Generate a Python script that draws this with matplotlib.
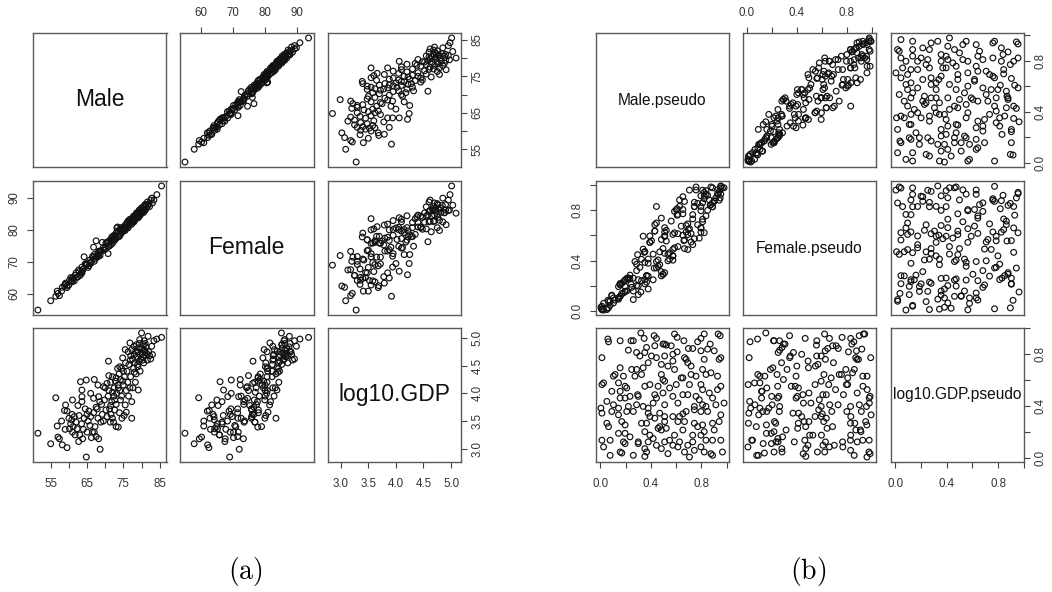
import numpy as np
import matplotlib
matplotlib.use("Agg")
import matplotlib.pyplot as plt

plt.rcParams['font.family'] = ['Liberation Sans', 'DejaVu Sans']
plt.rcParams['mathtext.fontset'] = 'cm'

# ---------------- (a) raw data ----------------
male = [51.5, 55.0, 56.8, 56.4, 57.0, 57.4, 58.2, 59.5, 59.1, 59.5,
        58.8, 60.0, 60.5, 60.8, 61.2, 61.5, 60.2, 61.0, 62.0, 62.3,
        61.7, 60.9, 62.7, 63.8, 64.8, 63.2, 64.8, 63.6, 63.6, 63.6,
        62.8, 63.5, 64.2, 64.0, 65.0, 65.3, 65.8, 66.0, 66.5, 65.5,
        66.8, 67.2, 67.5, 66.2, 68.0, 68.6, 68.2, 67.5, 66.8, 68.2,
        68.5, 67.8, 69.2, 69.0, 68.8, 67.0, 70.9, 70.0, 70.5, 71.0,
        71.5, 70.8, 71.8, 71.2, 71.6, 72.0, 71.4, 72.3, 73.0, 73.6,
        72.6, 73.0, 72.0, 72.5, 72.8, 73.2, 73.5, 73.8, 74.0, 74.2,
        74.5, 74.8, 74.5, 75.0, 75.3, 75.5, 75.5, 75.8, 76.0, 76.2,
        76.5, 76.8, 76.8, 77.0, 77.3, 77.3, 77.3, 77.5, 77.8, 78.0,
        78.2, 78.5, 78.6, 78.8, 79.0, 79.1, 79.1, 79.3, 79.5, 79.6,
        79.8, 80.0, 80.0, 80.2, 80.4, 80.5, 80.6, 80.8, 80.9, 81.0,
        81.2, 81.4, 81.6, 81.8, 82.0, 82.2, 82.5, 83.4, 85.5, 79.0,
        78.3, 77.6, 76.4, 75.2, 74.6, 73.9, 74.2, 73.4, 72.4, 71.0,
        69.5, 69.8, 70.2, 75.8, 76.9, 77.9, 78.9, 80.3, 81.0, 79.6,
        78.0, 75.6, 74.0, 73.0, 72.0, 71.5, 70.5, 69.5, 64.5, 62.5,
        61.0, 66.0, 67.0, 68.0, 65.0, 63.0, 59.0, 58.0, 82.8, 83.0,
        84.2, 80.7, 79.4, 78.4, 77.0, 76.3, 75.0, 74.8, 73.6, 72.6]

female = [54.9, 57.8, 60.8, 59.2, 60.1, 59.4, 62.0, 62.4, 63.3, 61.9,
          62.5, 62.7, 65.0, 64.1, 64.8, 64.0, 64.2, 64.1, 66.5, 65.1,
          65.7, 63.7, 67.4, 67.5, 68.9, 65.9, 69.4, 67.0, 68.3, 66.5,
          66.9, 66.6, 71.5, 67.7, 69.1, 68.2, 70.5, 69.7, 71.6, 68.7,
          71.4, 70.8, 76.5, 70.1, 72.5, 71.9, 73.2, 71.4, 74.5, 71.7,
          73.3, 71.4, 76.0, 73.3, 73.4, 70.1, 76.2, 74.2, 76.1, 74.8,
          76.7, 72.5, 77.6, 75.7, 76.5, 75.7, 76.8, 76.8, 78.9, 77.7,
          77.9, 77.3, 77.8, 77.2, 77.8, 80.5, 79.1, 78.5, 80.0, 78.4,
          80.0, 79.3, 80.6, 80.0, 80.6, 79.7, 81.4, 80.7, 82.2, 80.6,
          82.3, 81.5, 83.2, 82.2, 82.9, 81.7, 83.4, 82.6, 84.2, 82.7,
          84.2, 83.4, 85.2, 84.3, 84.8, 83.7, 85.4, 84.6, 86.1, 84.5,
          86.0, 85.1, 86.8, 85.8, 86.4, 85.3, 87.1, 86.3, 87.7, 86.0,
          87.5, 86.7, 88.6, 87.6, 88.1, 87.2, 89.2, 89.2, 93.6, 83.8,
          84.3, 82.4, 82.8, 80.2, 79.9, 77.9, 79.9, 80.8, 78.2, 74.8,
          74.4, 73.7, 75.8, 80.9, 82.4, 82.4, 85.2, 85.7, 87.8, 84.5,
          84.0, 80.2, 80.1, 77.8, 76.9, 75.2, 75.8, 73.6, 69.3, 65.3,
          64.9, 69.4, 72.2, 72.2, 69.1, 65.7, 62.9, 60.8, 89.8, 88.3,
          90.9, 85.9, 86.1, 83.8, 82.5, 80.6, 80.8, 79.6, 79.5, 76.6]

log10_gdp = [3.28, 3.09, 3.41, 3.92, 3.21, 3.18, 3.07, 3.02, 3.79, 3.68,
             3.69, 3.55, 3.45, 3.52, 3.40, 3.58, 3.36, 3.30, 3.48, 3.36,
             3.25, 3.62, 3.13, 3.18, 2.85, 4.21, 4.24, 4.06, 3.94, 3.85,
             3.60, 3.45, 3.55, 3.35, 3.62, 3.50, 3.42, 3.58, 3.30, 3.68,
             3.65, 3.40, 3.75, 3.20, 3.55, 2.99, 3.18, 3.22, 3.91, 3.94,
             3.85, 3.72, 3.62, 3.80, 3.48, 3.30, 4.58, 4.10, 4.18, 4.05,
             4.20, 3.95, 3.85, 3.72, 3.62, 3.55, 3.48, 3.48, 3.40, 3.39,
             3.70, 3.80, 4.30, 4.10, 4.22, 4.00, 4.15, 4.35, 4.05, 4.25,
             3.95, 4.64, 4.45, 4.15, 4.30, 4.79, 3.79, 4.05, 4.40, 4.20,
             4.52, 4.91, 4.10, 4.30, 4.79, 3.85, 3.55, 4.62, 4.45, 4.70,
             4.55, 4.35, 4.88, 4.65, 4.75, 4.06, 4.82, 4.58, 4.97, 4.70,
             4.62, 5.09, 4.80, 4.72, 4.66, 4.88, 4.55, 4.78, 4.76, 4.68,
             4.84, 4.72, 4.60, 5.03, 4.75, 4.68, 4.62, 4.95, 5.01, 4.48,
             4.20, 4.10, 3.95, 3.60, 3.55, 3.65, 3.88, 4.45, 3.95, 4.32,
             4.12, 3.88, 3.70, 3.66, 4.60, 4.85, 4.52, 4.60, 4.90, 4.40,
             4.38, 4.55, 4.48, 4.28, 4.02, 3.78, 3.58, 3.50, 3.72, 3.78,
             3.88, 4.00, 4.25, 4.15, 3.30, 3.25, 3.35, 3.50, 4.85, 4.70,
             4.98, 4.95, 4.90, 4.76, 4.68, 4.75, 4.40, 4.22, 4.10, 3.88]

# ---------------- (b) pseudo observations ----------------
male_pseudo = [
    0.060, 0.065, 0.157, 0.243, 0.261, 0.321, 0.347, 0.426, 0.444, 0.509,
    0.587, 0.608, 0.661, 0.770, 0.796, 0.822, 0.869, 0.932, 0.948, 0.222,
    0.366, 0.431, 0.496, 0.522, 0.561, 0.352, 0.287, 0.013, 0.608, 0.697,
    0.731, 0.796, 0.849, 0.901, 0.953, 0.940,
    0.313, 0.405, 0.444, 0.509, 0.574, 0.666, 0.679, 0.692, 0.718, 0.822,
    0.574, 0.157, 0.248, 0.287, 0.339, 0.379, 0.483, 0.535, 0.587,
    0.117, 0.104, 0.183, 0.274, 0.326, 0.483, 0.496, 0.640, 0.653, 0.718,
    0.809, 0.836, 0.757, 0.875, 0.927,
    0.013, 0.026, 0.144, 0.196, 0.209, 0.352, 0.392, 0.457, 0.509, 0.548,
    0.601, 0.705, 0.796, 0.809, 0.927, 0.953, 0.091, 0.157, 0.235, 0.295, 0.300,
    0.196, 0.157, 0.431, 0.444, 0.496, 0.574, 0.653, 0.692, 0.757, 0.783,
    0.862, 0.888, 0.052, 0.005, 0.104, 0.144, 0.222, 0.287, 0.339, 0.379,
    0.418, 0.509, 0.614, 0.744, 0.809, 0.836, 0.914, 0.979,
    0.013, 0.091, 0.144, 0.209, 0.261, 0.379, 0.392, 0.470, 0.509, 0.574,
    0.627, 0.653, 0.679, 0.744, 0.796, 0.849, 0.953, 0.052, 0.065, 0.170,
    0.196, 0.326, 0.366, 0.431, 0.509, 0.614, 0.666, 0.744, 0.770, 0.809,
    0.888, 0.940,
    0.144, 0.196, 0.235, 0.352, 0.392, 0.457, 0.470, 0.483, 0.522, 0.587,
    0.653, 0.731, 0.796, 0.822, 0.901, 0.013, 0.078, 0.183, 0.300, 0.379,
    0.418, 0.509, 0.548, 0.627, 0.692, 0.731, 0.836, 0.888, 0.953,
    0.026, 0.157, 0.170, 0.196, 0.300, 0.352, 0.366, 0.444, 0.483, 0.574,
    0.614, 0.666, 0.744, 0.796, 0.875, 0.888, 0.078, 0.261, 0.352, 0.535,
    0.705, 0.822, 0.966]

female_pseudo = [
    0.085, 0.025, 0.217, 0.213, 0.261, 0.151, 0.466, 0.341, 0.830, 0.305,
    0.621, 0.761, 0.559, 0.855, 0.660, 0.942, 0.839, 0.932, 0.898, 0.262,
    0.281, 0.686, 0.292, 0.556, 0.714, 0.250, 0.372, 0.018, 0.812, 0.646,
    0.731, 0.626, 0.919, 0.876, 0.990, 0.880,
    0.347, 0.558, 0.342, 0.594, 0.438, 0.870, 0.628, 0.692, 0.548, 0.892,
    0.489, 0.207, 0.188, 0.321, 0.492, 0.277, 0.568, 0.399, 0.791,
    0.087, 0.104, 0.143, 0.393, 0.241, 0.738, 0.292, 0.674, 0.806, 0.616,
    0.859, 0.756, 0.961, 0.845, 0.927,
    0.010, 0.061, 0.104, 0.246, 0.159, 0.386, 0.545, 0.355, 0.594, 0.412,
    0.805, 0.654, 0.796, 0.709, 0.962, 0.928, 0.121, 0.117, 0.255, 0.448, 0.198,
    0.246, 0.117, 0.635, 0.393, 0.496, 0.404, 0.772, 0.607, 0.985, 0.579,
    0.882, 0.978, 0.022, 0.030, 0.064, 0.104, 0.262, 0.202, 0.594, 0.175,
    0.452, 0.662, 0.512, 0.829, 0.729, 0.956, 0.899, 0.979,
    0.015, 0.126, 0.094, 0.259, 0.159, 0.413, 0.545, 0.368, 0.594, 0.438,
    0.831, 0.602, 0.679, 0.574, 0.915, 0.799, 0.993, 0.012, 0.075, 0.220,
    0.156, 0.411, 0.230, 0.635, 0.458, 0.614, 0.496, 0.863, 0.685, 0.959,
    0.828, 0.950,
    0.194, 0.156, 0.285, 0.216, 0.596, 0.406, 0.470, 0.313, 0.641, 0.502,
    0.908, 0.527, 0.830, 0.912, 0.871, 0.038, 0.045, 0.233, 0.249, 0.379,
    0.248, 0.628, 0.463, 0.882, 0.488, 0.765, 0.926, 0.828, 0.978,
    0.008, 0.217, 0.140, 0.196, 0.130, 0.471, 0.281, 0.699, 0.279, 0.608,
    0.767, 0.564, 0.829, 0.660, 0.985, 0.858, 0.078, 0.091, 0.471, 0.450,
    0.960, 0.622, 0.976]

gdp_pseudo = [
    0.917, 0.896, 0.904, 0.904, 0.904, 0.964, 0.922, 0.943, 0.922, 0.878,
    0.956, 0.930, 0.904, 0.896, 0.922, 0.956, 0.878, 0.956, 0.943, 0.831,
    0.852, 0.865, 0.878, 0.870, 0.865, 0.813, 0.813, 0.773, 0.818, 0.844,
    0.844, 0.826, 0.839, 0.826, 0.773, 0.760,
    0.786, 0.786, 0.773, 0.786, 0.799, 0.773, 0.760, 0.734, 0.708, 0.760,
    0.747, 0.695, 0.682, 0.682, 0.695, 0.734, 0.721, 0.708, 0.682,
    0.643, 0.630, 0.630, 0.630, 0.643, 0.643, 0.604, 0.617, 0.617, 0.643,
    0.682, 0.643, 0.630, 0.656, 0.630,
    0.565, 0.578, 0.578, 0.552, 0.539, 0.552, 0.565, 0.552, 0.591, 0.539,
    0.565, 0.565, 0.565, 0.526, 0.526, 0.552, 0.513, 0.513, 0.474, 0.487, 0.474,
    0.461, 0.461, 0.487, 0.461, 0.500, 0.474, 0.487, 0.487, 0.474, 0.448,
    0.500, 0.461, 0.435, 0.383, 0.409, 0.383, 0.396, 0.409, 0.396, 0.383,
    0.422, 0.409, 0.422, 0.396, 0.409, 0.396, 0.409, 0.422,
    0.344, 0.357, 0.331, 0.357, 0.357, 0.344, 0.318, 0.344, 0.318, 0.318,
    0.318, 0.339, 0.357, 0.370, 0.357, 0.357, 0.331, 0.266, 0.240, 0.279,
    0.253, 0.266, 0.266, 0.305, 0.279, 0.279, 0.279, 0.266, 0.240, 0.253,
    0.266, 0.279,
    0.188, 0.188, 0.161, 0.201, 0.174, 0.227, 0.240, 0.214, 0.227, 0.174,
    0.214, 0.174, 0.174, 0.201, 0.214, 0.135, 0.135, 0.122, 0.122, 0.122,
    0.148, 0.122, 0.135, 0.122, 0.096, 0.122, 0.135, 0.135, 0.135,
    0.083, 0.044, 0.036, 0.109, 0.109, 0.070, 0.044, 0.096, 0.070, 0.096,
    0.083, 0.044, 0.057, 0.083, 0.031, 0.018, 0.018, 0.018, 0.010, 0.031,
    0.005, 0.044, 0.044]

names_a = ["Male", "Female", "log10.GDP"]
names_b = ["Male.pseudo", "Female.pseudo", "log10.GDP.pseudo"]

male_ticks = [55, 60, 65, 70, 75, 80, 85]
male_ticklabels = ["55", "", "65", "", "75", "", "85"]
female_ticks = [60, 70, 80, 90]
female_ticklabels = ["60", "70", "80", "90"]
gdp_ticks = [3.0, 3.5, 4.0, 4.5, 5.0]
gdp_ticklabels = ["3.0", "3.5", "4.0", "4.5", "5.0"]
ps_ticks = [0.0, 0.2, 0.4, 0.6, 0.8, 1.0]
ps_ticklabels = ["0.0", "", "0.4", "", "0.8", ""]

W, H = 1052, 592
fig = plt.figure(figsize=(W / 100, H / 100), dpi=100)

FRAME = '#5a5a5a'
TICKC = '#444444'
LABC = '#333333'


def rng(v):
    v = np.asarray(v, float)
    lo, hi = v.min(), v.max()
    p = 0.04 * (hi - lo)
    return lo - p, hi + p


def pairs(data, names, ticks, ticklabels, lefts, tops, w, h, lab_size):
    n = len(data)
    lims = [rng(d) for d in data]
    for i in range(n):
        for j in range(n):
            ax = fig.add_axes([lefts[j] / W, 1 - (tops[i] + h) / H, w / W, h / H])
            ax.set_xlim(lims[j])
            ax.set_ylim(lims[i])
            for s in ax.spines.values():
                s.set_color(FRAME)
                s.set_linewidth(1.0)
            if i == j:
                ax.text(0.5, 0.5, names[i], transform=ax.transAxes,
                        ha='center', va='center', fontsize=lab_size,
                        color='#111111', clip_on=True)
            else:
                ax.scatter(data[j], data[i], s=17, facecolors='none',
                           edgecolors='#111111', linewidths=0.85)
            ax.tick_params(which='both', bottom=False, top=False, left=False,
                           right=False, labelbottom=False, labeltop=False,
                           labelleft=False, labelright=False,
                           length=4.2, width=0.8, color=TICKC,
                           labelsize=8.3, labelcolor=LABC)
            ax.set_xticks(ticks[j])
            ax.set_xticklabels(ticklabels[j])
            ax.set_yticks(ticks[i])
            ax.set_yticklabels(ticklabels[i])
            if i == n - 1 and j % 2 == 0:
                ax.tick_params(axis='x', bottom=True, labelbottom=True, pad=7.5)
            if i == 0 and j % 2 == 1:
                ax.tick_params(axis='x', top=True, labeltop=True, pad=6.0)
            if j == 0 and i % 2 == 1:
                ax.tick_params(axis='y', left=True, labelleft=True, pad=5.0)
                for t in ax.get_yticklabels():
                    t.set_rotation(90)
                    t.set_va('center')
            if j == n - 1 and i % 2 == 0:
                ax.tick_params(axis='y', right=True, labelright=True, pad=3.5)
                for t in ax.get_yticklabels():
                    t.set_rotation(90)
                    t.set_va('center')


pairs([male, female, log10_gdp], names_a,
      [male_ticks, female_ticks, gdp_ticks],
      [male_ticklabels, female_ticklabels, gdp_ticklabels],
      [33, 180, 327.5], [33, 181, 328], 133.5, 134, 16.5)

pairs([male_pseudo, female_pseudo, gdp_pseudo], names_b,
      [ps_ticks] * 3, [ps_ticklabels] * 3,
      [596, 743, 891], [33, 181, 328], 133, 134, 11.2)

fig.text(245 / W, 1 - 572 / H, r'$(\mathrm{a})$', fontsize=20,
         ha='center', va='center')
fig.text(808 / W, 1 - 572 / H, r'$(\mathrm{b})$', fontsize=20,
         ha='center', va='center')

fig.savefig('out.png', dpi=100)
